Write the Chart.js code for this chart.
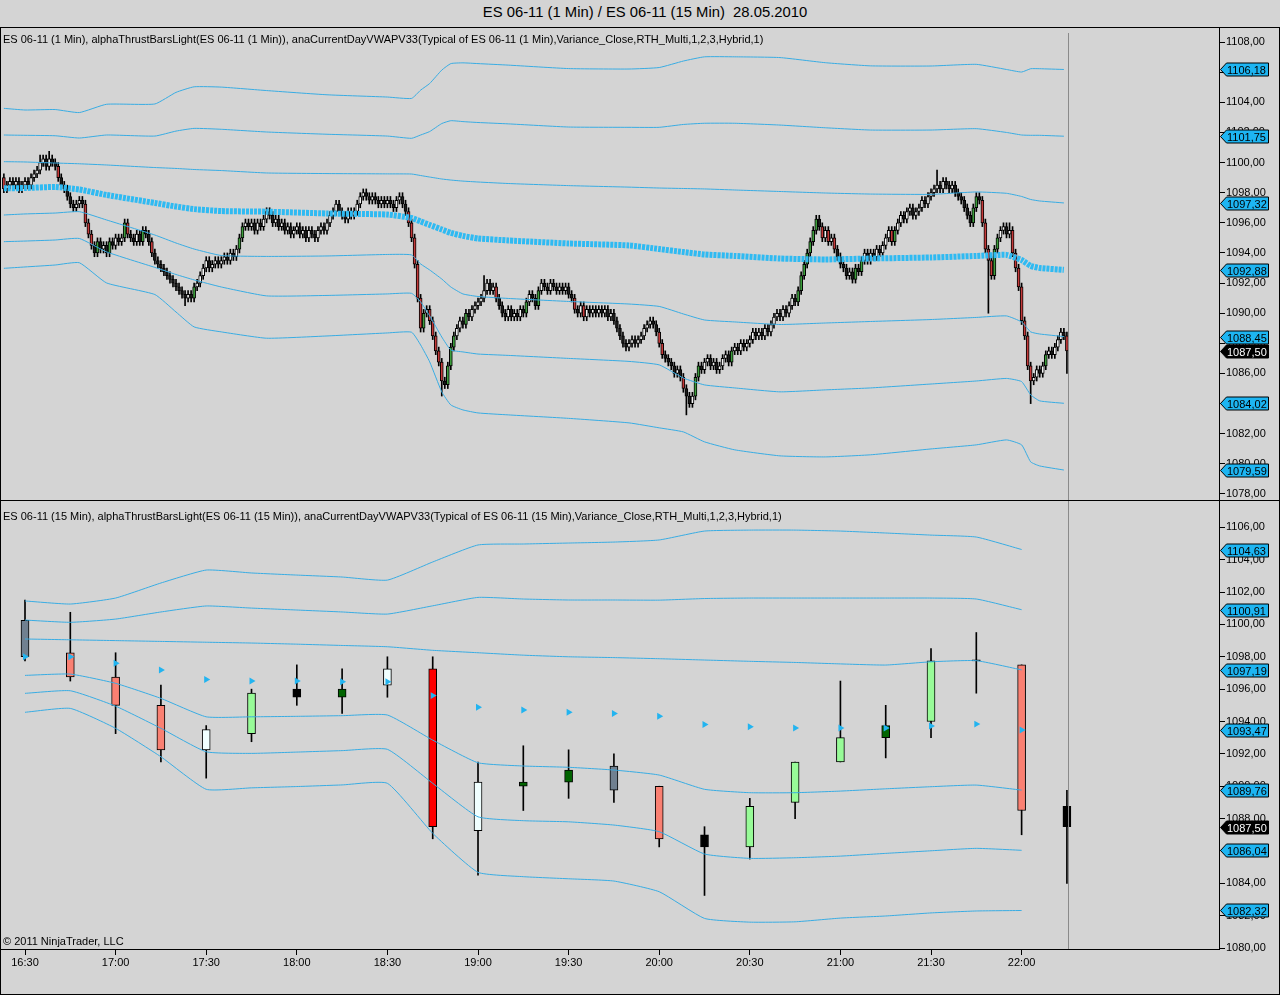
<!DOCTYPE html>
<html>
<head>
<meta charset="utf-8">
<script src="https://cdn.jsdelivr.net/npm/chart.js@4.4.0/dist/chart.umd.min.js"></script>
<style>
  body { margin: 0; background: #d4d4d4; }
  #wrap { position: relative; width: 1280px; height: 995px; background: #d4d4d4; overflow: hidden;
          font-family: "Liberation Sans", Arial, sans-serif; }
  .t { position: absolute; white-space: nowrap; color: #000; }
  canvas { position: absolute; left: 0; }
  .ln { position: absolute; background: #000; }
</style>
</head>
<body>
<div id="wrap">
  <div class="t" style="left:0;width:1290px;text-align:center;top:4px;font-size:14.8px">ES 06-11 (1 Min) / ES 06-11 (15 Min)&nbsp; 28.05.2010</div>
  <canvas id="topChart" width="1280" height="473" style="top:27px"></canvas>
  <canvas id="botChart" width="1280" height="495" style="top:500px"></canvas>
  <div class="t" style="left:3px;top:33px;font-size:11px">ES 06-11 (1 Min), alphaThrustBarsLight(ES 06-11 (1 Min)), anaCurrentDayVWAPV33(Typical of ES 06-11 (1 Min),Variance_Close,RTH_Multi,1,2,3,Hybrid,1)</div>
  <div class="t" style="left:3px;top:510px;font-size:11px">ES 06-11 (15 Min), alphaThrustBarsLight(ES 06-11 (15 Min)), anaCurrentDayVWAPV33(Typical of ES 06-11 (15 Min),Variance_Close,RTH_Multi,1,2,3,Hybrid,1)</div>
  <div class="t" style="left:3px;top:935px;font-size:11px">© 2011 NinjaTrader, LLC</div>
  <div class="ln" style="left:0;top:27px;width:1280px;height:1px"></div>
  <div class="ln" style="left:0;top:500px;width:1280px;height:1px"></div>
  <div class="ln" style="left:0;top:994px;width:1280px;height:1px"></div>
  <div class="ln" style="left:0;top:27px;width:1px;height:968px"></div>
  <div class="ln" style="left:1279px;top:27px;width:1px;height:968px"></div>
</div>
<script>
// minutes are counted from 16:30
const xMin = -8.28;
const xMax = 395.36;
const xTickMinutes = [0, 30, 60, 90, 120, 150, 180, 210, 240, 270, 300, 330];
const yTicksTop = [1078, 1080, 1082, 1084, 1086, 1088, 1090, 1092, 1094, 1096, 1098, 1100, 1102, 1104, 1106, 1108];
const yTicksBot = [1080, 1082, 1084, 1086, 1088, 1090, 1092, 1094, 1096, 1098, 1100, 1102, 1104, 1106];
const cursorMinute = 345.3;

// 1 minute bars (close of each minute, first bar at 16:23)
const firstMinute = -7;
const firstOpen = 1099.0;
const closes1 = [
  1098.25, 1098.5, 1098.75, 1098.5, 1098.75, 1098.25, 1098.5,
  1098.75, 1098.5, 1099.0, 1099.25, 1099.5, 1100.0, 1100.25, 1099.75, 1100.25, 1100.0,
  1099.75, 1099.0, 1098.5, 1098.25, 1097.75, 1097.25, 1097.0, 1097.25, 1097.5, 1097.25,
  1096.0, 1095.25, 1094.5, 1094.0, 1094.75, 1094.25, 1094.5, 1094.0, 1094.75, 1094.5,
  1095.0, 1094.75, 1095.0, 1096.0, 1095.25, 1095.0, 1094.75, 1095.25, 1094.75, 1095.5,
  1095.25, 1094.75, 1094.0, 1093.5, 1093.25, 1093.0, 1092.75, 1092.5, 1092.25, 1092.0,
  1091.75, 1091.5, 1091.25, 1091.0, 1091.25, 1091.0, 1091.75, 1092.0, 1092.5, 1093.0,
  1093.5, 1093.0, 1093.25, 1093.5, 1093.25, 1093.5, 1093.75, 1093.5, 1094.0, 1093.75,
  1094.25, 1095.0, 1095.75, 1096.0, 1095.75, 1096.0, 1095.5, 1096.0, 1095.75, 1096.25,
  1096.75, 1096.5, 1096.0, 1096.25, 1095.75, 1096.0, 1095.5, 1095.75, 1095.25, 1095.5,
  1095.75, 1095.25, 1095.5, 1095.0, 1095.5, 1095.25, 1095.0, 1095.5, 1095.75, 1095.5,
  1096.0, 1096.5, 1096.75, 1097.25, 1096.75, 1096.5, 1096.25, 1096.75, 1096.5, 1096.75,
  1097.25, 1097.75, 1098.0, 1097.75, 1097.5, 1097.75, 1097.5, 1097.25, 1097.5, 1097.25,
  1097.5, 1097.25, 1097.0, 1097.5, 1097.75, 1097.25, 1096.75, 1096.0, 1095.0, 1093.25,
  1091.0, 1089.0, 1090.0, 1090.25, 1089.5, 1088.5, 1087.5, 1086.75, 1085.5, 1085.25,
  1086.5, 1087.75, 1088.5, 1089.0, 1089.5, 1089.25, 1090.0, 1089.75, 1090.25, 1090.5,
  1090.75, 1091.0, 1091.5, 1092.0, 1091.5, 1091.75, 1091.0, 1090.5, 1090.0, 1089.75,
  1090.25, 1089.75, 1090.0, 1089.75, 1090.25, 1090.0, 1090.75, 1091.25, 1091.0, 1090.5,
  1091.5, 1092.0, 1091.75, 1091.5, 1092.0, 1091.75, 1091.5, 1091.75, 1091.5, 1091.75,
  1091.25, 1091.0, 1090.25, 1090.0, 1090.5, 1089.75, 1090.25, 1090.0, 1090.25, 1090.0,
  1090.25, 1090.0, 1090.25, 1089.75, 1090.0, 1089.5, 1089.0, 1088.5, 1088.0, 1087.75,
  1088.0, 1088.25, 1088.0, 1088.25, 1088.5, 1089.0, 1089.25, 1089.5, 1089.25, 1088.75,
  1088.0, 1087.25, 1087.0, 1086.75, 1086.5, 1086.0, 1086.25, 1085.75, 1085.0, 1084.5,
  1084.0, 1084.5, 1085.75, 1086.5, 1086.25, 1086.75, 1087.0, 1086.5, 1086.75, 1086.25,
  1086.5, 1087.0, 1087.25, 1086.75, 1087.5, 1087.75, 1087.5, 1088.0, 1087.75, 1088.0,
  1088.25, 1088.75, 1088.5, 1088.75, 1088.5, 1089.0, 1088.75, 1089.25, 1089.75, 1090.0,
  1089.75, 1090.25, 1090.0, 1090.5, 1091.0, 1090.75, 1091.5, 1092.5, 1093.25, 1094.0,
  1094.75, 1095.5, 1096.25, 1095.75, 1095.0, 1095.5, 1094.75, 1095.0, 1094.25, 1093.75,
  1093.25, 1093.0, 1092.5, 1092.75, 1092.25, 1093.0, 1092.75, 1093.5, 1094.0, 1093.5,
  1094.0, 1093.75, 1094.25, 1094.0, 1094.5, 1095.0, 1095.5, 1094.75, 1095.5, 1096.0,
  1096.5, 1096.25, 1096.75, 1097.0, 1096.5, 1096.75, 1097.0, 1097.5, 1097.25, 1097.75,
  1098.0, 1098.25, 1098.5, 1098.25, 1098.75, 1098.5, 1098.25, 1098.5, 1098.0, 1097.75,
  1097.5, 1097.0, 1096.5, 1096.0, 1097.0, 1097.75, 1097.5, 1096.0, 1094.25, 1093.5,
  1092.5, 1094.25, 1095.0, 1095.5, 1095.75, 1095.25, 1095.5, 1094.0, 1093.0, 1091.75,
  1089.5, 1088.5, 1086.5, 1085.5, 1085.75, 1086.25, 1086.0, 1086.5, 1087.25, 1087.5,
  1087.25, 1087.75, 1088.25, 1088.75, 1088.5, 1087.5
];
// bars with a longer wick than one tick
const spikeMinutes = [5, 8, 53, 113, 138, 152, 219, 262, 302, 319, 326, 333, 345];
const spikeHighs = [1100.5, 1100.75, null, 1098.25, null, 1092.5, null, 1096.5, 1099.5, null, 1096.0, null, null];
const spikeLows = [null, null, 1090.5, null, 1084.5, null, 1083.25, null, null, 1090.0, null, 1084.0, 1086.0];

// 1 minute VWAP and bands
const bandMinutes1 = [-7, 0, 10, 18, 27, 43, 50, 56, 65, 80, 100, 120, 128, 131, 134, 138, 141, 145,
  150, 160, 180, 200, 210, 218, 225, 235, 250, 265, 280, 300, 315, 325, 330, 333, 336, 344];
const up3_1 = [1103.60, 1103.49, 1103.52, 1103.32, 1103.87, 1103.89, 1104.66, 1105.03, 1105.01, 1104.78, 1104.50, 1104.35,
  1104.26, 1104.81, 1105.25, 1106.14, 1106.57, 1106.62, 1106.57, 1106.47, 1106.24, 1106.21, 1106.31, 1106.74,
  1107.02, 1107.02, 1106.97, 1106.63, 1106.42, 1106.41, 1106.52, 1106.18, 1106.01, 1106.23, 1106.23, 1106.18];
const up2_1 = [1101.83, 1101.81, 1101.78, 1101.63, 1101.83, 1101.76, 1102.09, 1102.27, 1102.21, 1102.03, 1101.88, 1101.76,
  1101.61, 1101.83, 1102.06, 1102.59, 1102.78, 1102.72, 1102.66, 1102.57, 1102.36, 1102.34, 1102.34, 1102.53,
  1102.61, 1102.61, 1102.49, 1102.31, 1102.16, 1102.16, 1102.25, 1102.00, 1101.83, 1101.81, 1101.81, 1101.75];
const up1_1 = [1100.06, 1100.04, 1099.97, 1099.92, 1099.84, 1099.67, 1099.61, 1099.54, 1099.47, 1099.31, 1099.27, 1099.25,
  1099.24, 1099.14, 1099.04, 1098.91, 1098.84, 1098.77, 1098.71, 1098.61, 1098.47, 1098.37, 1098.31, 1098.28,
  1098.25, 1098.18, 1098.08, 1097.98, 1097.91, 1097.89, 1098.05, 1097.96, 1097.75, 1097.55, 1097.45, 1097.32];
const vwap1 = [1098.29, 1098.31, 1098.38, 1098.21, 1097.85, 1097.32, 1097.08, 1096.91, 1096.78, 1096.74, 1096.62, 1096.55,
  1096.32, 1096.09, 1095.86, 1095.56, 1095.33, 1095.13, 1094.96, 1094.83, 1094.63, 1094.50, 1094.26, 1094.06,
  1093.90, 1093.80, 1093.63, 1093.57, 1093.63, 1093.70, 1093.80, 1093.87, 1093.53, 1093.14, 1093.00, 1092.88];
const dn1_1 = [1096.52, 1096.59, 1096.65, 1096.74, 1096.19, 1095.19, 1094.66, 1094.26, 1093.83, 1093.77, 1093.80, 1093.90,
  1093.87, 1093.27, 1092.87, 1092.27, 1091.74, 1091.28, 1091.11, 1090.98, 1090.78, 1090.61, 1090.45, 1089.95,
  1089.55, 1089.42, 1089.25, 1089.35, 1089.45, 1089.58, 1089.72, 1089.82, 1089.42, 1088.76, 1088.62, 1088.45];
const dn2_1 = [1094.75, 1094.79, 1094.86, 1094.96, 1094.07, 1093.04, 1092.57, 1092.21, 1091.74, 1091.15, 1091.18, 1091.28,
  1091.32, 1090.75, 1089.82, 1088.42, 1087.56, 1087.43, 1087.29, 1087.20, 1087.00, 1086.80, 1086.57, 1085.70,
  1085.24, 1085.04, 1084.78, 1084.91, 1085.04, 1085.30, 1085.50, 1085.67, 1085.46, 1084.58, 1084.18, 1084.02];
const dn3_1 = [1092.98, 1093.07, 1093.20, 1093.35, 1092.01, 1091.24, 1090.08, 1089.09, 1088.76, 1088.34, 1088.49, 1088.69,
  1088.74, 1087.89, 1086.77, 1084.78, 1083.91, 1083.58, 1083.38, 1083.25, 1083.02, 1082.72, 1082.39, 1082.12,
  1081.46, 1080.93, 1080.53, 1080.46, 1080.60, 1080.99, 1081.26, 1081.59, 1081.26, 1080.13, 1079.86, 1079.59];

// 15 minute bars
const minutes15 = [0, 15, 30, 45, 60, 75, 90, 105, 120, 135, 150, 165, 180, 195, 210, 225, 240, 255, 270, 285, 300, 315, 330, 345];
const open15 = [1100.25, 1098.25, 1096.75, 1095.0, 1092.25, 1093.25, 1096.0, 1095.5, 1096.25, 1097.25, 1087.25, 1090.0,
  1090.25, 1091.25, 1090.0, 1087.0, 1086.25, 1089.0, 1091.5, 1093.0, 1094.0, 1097.75, 1097.5, 1088.75];
const close15 = [1098.0, 1096.75, 1095.0, 1092.25, 1093.5, 1095.75, 1095.5, 1096.0, 1097.25, 1087.5, 1090.25, 1090.25,
  1091.0, 1089.75, 1086.75, 1086.25, 1088.75, 1091.5, 1093.0, 1093.75, 1097.75, 1097.75, 1088.5, 1087.5];
const high15 = [1101.5, 1100.75, 1098.25, 1096.25, 1093.75, 1096.0, 1097.5, 1097.25, 1098.0, 1098.0, 1091.5, 1092.5,
  1092.25, 1092.0, 1090.0, 1087.5, 1089.25, 1091.5, 1096.5, 1095.0, 1098.5, 1099.5, 1097.5, 1089.75];
const low15 = [1097.75, 1096.5, 1093.25, 1091.5, 1090.5, 1092.75, 1095.0, 1094.5, 1095.5, 1086.75, 1084.5, 1088.5,
  1089.25, 1089.0, 1086.25, 1083.25, 1085.5, 1088.0, 1091.5, 1091.75, 1093.0, 1095.75, 1087.0, 1084.0];
const color15 = ['#708090', '#fa8072', '#fa8072', '#fa8072', '#f0ffff', '#98fb98', '#000000', '#006400',
  '#f0ffff', '#ff0000', '#f0ffff', '#006400', '#006400', '#708090', '#fa8072', '#000000',
  '#98fb98', '#98fb98', '#98fb98', '#006400', '#98fb98', '#000000', '#fa8072', '#000000'];

// 15 minute VWAP and bands, 16:30 .. 22:00
const vwap15 = [1098.0, 1098.0, 1097.6, 1097.18, 1096.6, 1096.5, 1096.5, 1096.46, 1096.46, 1095.6, 1094.88, 1094.71,
  1094.57, 1094.5, 1094.32, 1093.82, 1093.68, 1093.6, 1093.6, 1093.6, 1093.72, 1093.84, 1093.47];
const up3_15 = [1101.45, 1101.26, 1101.63, 1102.56, 1103.36, 1103.18, 1103.05, 1102.93, 1102.74, 1103.86, 1104.91, 1104.97,
  1105.03, 1105.09, 1105.22, 1105.77, 1105.83, 1105.83, 1105.77, 1105.65, 1105.52, 1105.40, 1104.63];
const up2_15 = [1100.27, 1100.13, 1100.33, 1100.77, 1101.14, 1101.01, 1100.89, 1100.77, 1100.64, 1101.15, 1101.67, 1101.57,
  1101.51, 1101.51, 1101.50, 1101.60, 1101.63, 1101.63, 1101.63, 1101.63, 1101.63, 1101.57, 1100.91];
const up1_15 = [1099.10, 1099.05, 1099.00, 1098.95, 1098.90, 1098.85, 1098.78, 1098.70, 1098.62, 1098.40, 1098.25, 1098.10,
  1098.00, 1097.95, 1097.88, 1097.80, 1097.72, 1097.65, 1097.56, 1097.49, 1097.69, 1097.76, 1097.19];
const dn1_15 = [1096.85, 1096.93, 1096.36, 1095.43, 1094.29, 1094.29, 1094.32, 1094.36, 1094.40, 1092.85, 1091.45, 1091.25,
  1091.17, 1091.00, 1090.69, 1089.81, 1089.60, 1089.60, 1089.70, 1089.84, 1089.97, 1090.07, 1089.76];
const dn2_15 = [1095.74, 1095.90, 1094.95, 1093.58, 1092.13, 1092.03, 1092.11, 1092.20, 1092.28, 1090.18, 1088.11, 1087.87,
  1087.80, 1087.60, 1087.19, 1085.81, 1085.54, 1085.58, 1085.68, 1085.85, 1086.01, 1086.16, 1086.04];
const dn3_15 = [1094.57, 1094.81, 1093.58, 1091.82, 1089.81, 1089.90, 1089.98, 1090.08, 1090.18, 1087.09, 1084.68, 1084.41,
  1084.28, 1084.14, 1083.48, 1081.83, 1081.60, 1081.62, 1081.85, 1081.98, 1082.17, 1082.29, 1082.32];

const BAND = '#38ace3';
const TAG = '#1db5f2';
const FONT = '"Liberation Sans", Arial, sans-serif';

Chart.defaults.font.family = FONT;
Chart.defaults.font.size = 11;
Chart.defaults.color = '#000';

function fmt(v) {
  return v.toFixed(2).replace('.', ',');
}
function timeLabel(m) {
  const t = 16 * 60 + 30 + m;
  return Math.floor(t / 60) + ':' + String(t % 60).padStart(2, '0');
}
function pts(xs, ys) {
  return ys.map((y, i) => ({ x: xs[i], y: y }));
}
// no extra room round the plot, the panels are placed by hand
function noPadding(s) {
  s.paddingTop = 0; s.paddingBottom = 0; s.paddingLeft = 0; s.paddingRight = 0;
}

// the coloured value boxes on the price axis
const tagPlugin = {
  id: 'tags',
  afterDraw(chart, args, opts) {
    const ctx = chart.ctx;
    const ys = chart.scales.y;
    const left = chart.chartArea.right;
    ctx.save();
    ctx.font = '11px ' + FONT;
    ctx.textBaseline = 'middle';
    ctx.lineWidth = 1;
    opts.items.forEach(it => {
      const py = Math.round(ys.getPixelForValue(it.value)) + 0.5;
      ctx.beginPath();
      ctx.moveTo(left + 1.5, py);
      ctx.lineTo(left + 7.5, py - 6.5);
      ctx.lineTo(left + 49.5, py - 6.5);
      ctx.lineTo(left + 49.5, py + 6.5);
      ctx.lineTo(left + 7.5, py + 6.5);
      ctx.closePath();
      ctx.fillStyle = it.fill;
      ctx.fill();
      ctx.strokeStyle = '#000';
      ctx.stroke();
      ctx.fillStyle = it.text;
      ctx.fillText(fmt(it.value), left + 8, py + 1);
    });
    ctx.restore();
  }
};

// grey vertical cursor line
const cursorPlugin = {
  id: 'cursor',
  afterDatasetsDraw(chart, args, opts) {
    const ctx = chart.ctx;
    const x = Math.round(chart.scales.x.getPixelForValue(opts.minute)) + 0.5;
    ctx.save();
    ctx.strokeStyle = '#8a8a8a';
    ctx.lineWidth = 1;
    ctx.beginPath();
    ctx.moveTo(x, chart.chartArea.top + opts.top);
    ctx.lineTo(x, chart.chartArea.bottom);
    ctx.stroke();
    ctx.restore();
  }
};

function bandLine(xs, ys) {
  return {
    type: 'line', data: pts(xs, ys), borderColor: BAND, borderWidth: 1,
    pointRadius: 0, tension: 0.15, order: 1
  };
}

function yAxis(ticks, min, max) {
  return {
    position: 'right', min: min, max: max,
    afterFit: s => { s.width = 61; noPadding(s); },
    afterBuildTicks: s => { s.ticks = ticks.map(v => ({ value: v })); },
    ticks: { callback: v => fmt(v), padding: 1, color: '#000', font: { size: 11 } },
    grid: { drawOnChartArea: false, drawTicks: true, tickLength: 6, color: '#000', offset: false },
    border: { display: true, color: '#000', width: 1 }
  };
}

function baseOptions() {
  return {
    responsive: false, devicePixelRatio: 1, animation: false, events: [],
    layout: { padding: 0, autoPadding: false },
    plugins: { legend: { display: false }, tooltip: { enabled: false } }
  };
}

// ---------- top chart: 1 minute ----------
const wick1 = [], body1 = [], bodyColor1 = [];
for (let i = 0; i < closes1.length; i++) {
  const m = firstMinute + i;
  const o = i ? closes1[i - 1] : firstOpen;
  const c = closes1[i];
  let hi = Math.max(o, c) + 0.25;
  let lo = Math.min(o, c) - 0.25;
  const k = spikeMinutes.indexOf(m);
  if (k >= 0) {
    if (spikeHighs[k] !== null) hi = spikeHighs[k];
    if (spikeLows[k] !== null) lo = spikeLows[k];
  }
  wick1.push({ x: m, y: [lo, hi] });
  body1.push({ x: m, y: [o, c] });
  const d = c - o;
  bodyColor1.push(d >= 0.75 ? '#3c9c3c' : d > 0 ? '#f4f4f4' : d === 0 ? '#555555' : d <= -0.75 ? '#c43a3a' : '#1c1c1c');
}

const opt1 = baseOptions();
opt1.scales = {
  x: { type: 'linear', min: xMin, max: xMax, display: false, offset: false, grid: { offset: false },
       afterFit: s => { noPadding(s); } },
  y: yAxis(yTicksTop, 1077.6, 1109.0)
};
opt1.plugins.tags = {
  items: [
    { value: up3_1[up3_1.length - 1], fill: TAG, text: '#000' },
    { value: up2_1[up2_1.length - 1], fill: TAG, text: '#000' },
    { value: up1_1[up1_1.length - 1], fill: TAG, text: '#000' },
    { value: vwap1[vwap1.length - 1], fill: TAG, text: '#000' },
    { value: dn1_1[dn1_1.length - 1], fill: TAG, text: '#000' },
    { value: dn2_1[dn2_1.length - 1], fill: TAG, text: '#000' },
    { value: dn3_1[dn3_1.length - 1], fill: TAG, text: '#000' },
    { value: closes1[closes1.length - 1], fill: '#000', text: '#fff' }
  ]
};
opt1.plugins.cursor = { minute: cursorMinute, top: 6 };

new Chart(document.getElementById('topChart'), {
  type: 'bar',
  data: {
    datasets: [
      bandLine(bandMinutes1, up3_1),
      bandLine(bandMinutes1, up2_1),
      bandLine(bandMinutes1, up1_1),
      bandLine(bandMinutes1, dn1_1),
      bandLine(bandMinutes1, dn2_1),
      bandLine(bandMinutes1, dn3_1),
      {
        type: 'line', data: pts(bandMinutes1, vwap1), borderColor: '#2fbaf2', borderWidth: 6,
        borderDash: [3, 1], pointRadius: 0, tension: 0.15, order: 0
      },
      { data: wick1, backgroundColor: '#000', barThickness: 1, grouped: false, order: 3 },
      {
        data: body1, backgroundColor: bodyColor1, borderColor: '#000', borderWidth: 1,
        borderSkipped: false, barThickness: 3, minBarLength: 1, grouped: false, order: 2
      }
    ]
  },
  options: opt1,
  plugins: [tagPlugin, cursorPlugin]
});

// ---------- bottom chart: 15 minute ----------
const opt2 = baseOptions();
opt2.scales = {
  x: {
    type: 'linear', min: xMin, max: xMax, offset: false,
    afterFit: s => { s.height = 46; noPadding(s); },
    afterBuildTicks: s => { s.ticks = xTickMinutes.map(v => ({ value: v })); },
    ticks: { callback: v => timeLabel(v), padding: 1, color: '#000', font: { size: 11 }, maxRotation: 0 },
    grid: { drawOnChartArea: false, drawTicks: true, tickLength: 6, color: '#000', offset: false },
    border: { display: true, color: '#000', width: 1 }
  },
  y: yAxis(yTicksBot, 1079.94, 1107.69)
};
opt2.plugins.tags = {
  items: [
    { value: up3_15[up3_15.length - 1], fill: TAG, text: '#000' },
    { value: up2_15[up2_15.length - 1], fill: TAG, text: '#000' },
    { value: up1_15[up1_15.length - 1], fill: TAG, text: '#000' },
    { value: vwap15[vwap15.length - 1], fill: TAG, text: '#000' },
    { value: dn1_15[dn1_15.length - 1], fill: TAG, text: '#000' },
    { value: dn2_15[dn2_15.length - 1], fill: TAG, text: '#000' },
    { value: dn3_15[dn3_15.length - 1], fill: TAG, text: '#000' },
    { value: close15[close15.length - 1], fill: '#000', text: '#fff' }
  ]
};
opt2.plugins.cursor = { minute: cursorMinute, top: 0 };

new Chart(document.getElementById('botChart'), {
  type: 'bar',
  data: {
    datasets: [
      bandLine(minutes15, up3_15),
      bandLine(minutes15, up2_15),
      bandLine(minutes15, up1_15),
      bandLine(minutes15, dn1_15),
      bandLine(minutes15, dn2_15),
      bandLine(minutes15, dn3_15),
      {
        type: 'line', data: pts(minutes15, vwap15), showLine: false, pointStyle: 'triangle',
        rotation: 90, pointRadius: 4, pointBackgroundColor: '#22b4f0', pointBorderWidth: 0, order: 0
      },
      {
        data: minutes15.map((m, i) => ({ x: m, y: [low15[i], high15[i]] })),
        backgroundColor: '#000', barThickness: 1, grouped: false, order: 3
      },
      {
        data: minutes15.map((m, i) => ({ x: m, y: [open15[i], close15[i]] })),
        backgroundColor: color15, borderColor: '#000', borderWidth: 1, borderSkipped: false,
        barThickness: 8, minBarLength: 1, grouped: false, order: 2
      }
    ]
  },
  options: opt2,
  plugins: [tagPlugin, cursorPlugin]
});
</script>
</body>
</html>
